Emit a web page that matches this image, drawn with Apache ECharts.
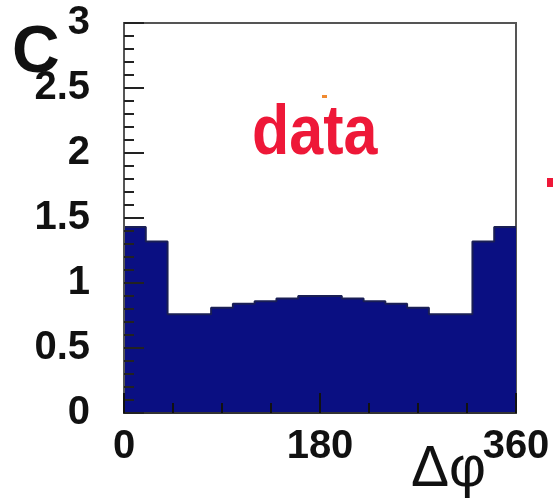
<!DOCTYPE html>
<html>
<head>
<meta charset="utf-8">
<script src="https://cdn.jsdelivr.net/npm/echarts@6/dist/echarts.min.js"></script>
<style>
  html, body { margin: 0; padding: 0; background: #fff; }
  #chart { width: 553px; height: 501px; }
</style>
</head>
<body>
<div id="chart"></div>
<script>
// 直方图：Δφ 分布，18 个 20° 的 bin
const BIN_EDGES = [0, 20, 40, 60, 80, 100, 120, 140, 160, 180, 200, 220, 240, 260, 280, 300, 320, 340, 360];
const BIN_VALUES = [1.43, 1.32, 0.76, 0.76, 0.81, 0.84, 0.86, 0.88, 0.90, 0.90, 0.88, 0.86, 0.84, 0.81, 0.76, 0.76, 1.32, 1.43];
const X_TICKS = [0, 180, 360];
const Y_TICKS = [0, 0.5, 1, 1.5, 2, 2.5, 3];

// step 'end' 需要最后一个点闭合
const stepData = BIN_EDGES.map((x, i) => [x, BIN_VALUES[Math.min(i, BIN_VALUES.length - 1)]]);

const chart = echarts.init(document.getElementById('chart'));
const labelFont = { fontFamily: 'Liberation Sans', fontWeight: 'bold', fontSize: 40, color: '#111' };

chart.setOption({
  animation: false,
  grid: { left: 124, right: 37, top: 23, bottom: 88, show: true, borderColor: '#555', borderWidth: 2 },
  xAxis: {
    type: 'value',
    z: 5,
    min: X_TICKS[0],
    max: X_TICKS[X_TICKS.length - 1],
    interval: 180,
    axisLine: { lineStyle: { color: '#333', width: 2 } },
    axisTick: { inside: true, length: 20, lineStyle: { color: '#111', width: 2 } },
    minorTick: { show: true, splitNumber: 4, length: 10, lineStyle: { color: '#111', width: 2 } },
    splitLine: { show: false },
    axisLabel: { ...labelFont, margin: 14, showMaxLabel: true, showMinLabel: true }
  },
  yAxis: {
    type: 'value',
    z: 5,
    min: Y_TICKS[0],
    max: Y_TICKS[Y_TICKS.length - 1],
    interval: 0.5,
    axisLine: { show: true, lineStyle: { color: '#555', width: 2 } },
    axisTick: { show: true, inside: true, length: 20, lineStyle: { color: '#222', width: 2 } },
    minorTick: { show: true, splitNumber: 5, length: 10, lineStyle: { color: '#222', width: 2 } },
    splitLine: { show: false },
    axisLabel: { ...labelFont, margin: 34 }
  },
  graphic: [
    { type: 'text', left: 12, top: 21, z: 10,
      style: { text: 'C', fontFamily: 'Liberation Sans', fontWeight: 'bold', fontSize: 66, fill: '#111' } },
    { type: 'text', left: 411, top: 442, z: 10,
      style: { text: 'Δφ', fontFamily: 'Liberation Sans', fontSize: 57, fill: '#111' } },
    { type: 'text', left: 252, top: 100, z: 10, scaleY: 1.15,
      style: { text: 'data', fontFamily: 'Liberation Sans', fontWeight: 'bold', fontSize: 61, fill: '#ee1838' } },
    { type: 'rect', left: 322, top: 95, z: 10, shape: { width: 5, height: 3 }, style: { fill: '#f08a30' } },
    { type: 'rect', left: 547, top: 178, z: 10, shape: { width: 6, height: 9 }, style: { fill: '#ee1838' } }
  ],
  series: [{
    type: 'line',
    step: 'end',
    data: stepData,
    symbol: 'none',
    z: 2,
    lineStyle: { color: '#1a1f55', width: 2 },
    areaStyle: { color: '#0a0f82', opacity: 1 }
  }]
});
</script>
</body>
</html>
